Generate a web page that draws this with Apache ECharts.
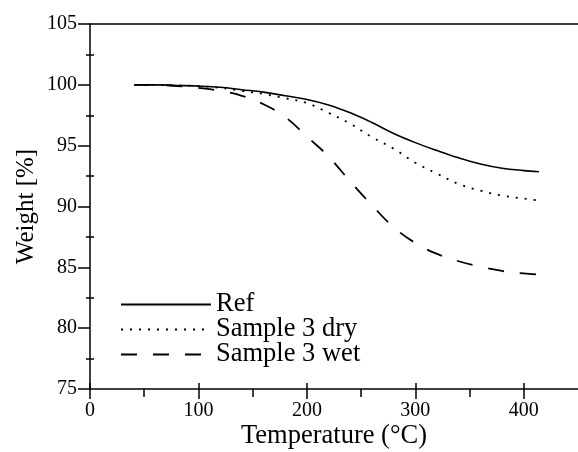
<!DOCTYPE html>
<html>
<head>
<meta charset="utf-8">
<script src="https://cdn.jsdelivr.net/npm/echarts@6/dist/echarts.min.js"></script>
<style>html,body{margin:0;padding:0;background:#fff;}#c{width:578px;height:452px;}</style>
</head>
<body>
<div id="c"></div>
<script>
const temps = [41, 60, 80, 100, 120, 140, 160, 180, 200, 220, 240, 260, 280, 300, 320, 340, 360, 380, 400, 414];
const refW =  [100.0, 100.0, 99.95, 99.9, 99.8, 99.6, 99.4, 99.1, 98.8, 98.35, 97.7, 96.9, 96.0, 95.25, 94.6, 94.0, 93.5, 93.15, 92.95, 92.85];
const dryW =  [100.0, 100.0, 99.95, 99.9, 99.75, 99.5, 99.25, 98.9, 98.5, 97.7, 96.8, 95.7, 94.75, 93.6, 92.7, 91.85, 91.3, 90.9, 90.65, 90.5];
const wetW =  [100.0, 100.0, 99.9, 99.75, 99.5, 99.1, 98.4, 97.35, 95.75, 94.1, 92.05, 90.1, 88.3, 87.0, 86.1, 85.5, 85.05, 84.7, 84.5, 84.4];
const seriesNames = ['Ref', 'Sample 3 dry', 'Sample 3 wet'];
const xMajor = [0, 100, 200, 300, 400];
const xMinor = [50, 150, 250, 350];
const yMinor = [77.5, 82.5, 87.5, 92.5, 97.5, 102.5];

const FONT = '"Liberation Serif", "Times New Roman", serif';
const pair = (ys) => temps.map((t, i) => [t, ys[i]]);
const black = '#000';

const chart = echarts.init(document.getElementById('c'));
chart.setOption({
  backgroundColor: '#fff',
  animation: false,
  grid: { left: 90, right: 0, top: 24, bottom: 63, outerBoundsMode: 'none', containLabel: false },
  legend: {
    orient: 'vertical', left: 115, top: 286,
    itemWidth: 90, itemHeight: 14, itemGap: -2,
    itemStyle: { opacity: 0 },
    textStyle: { fontFamily: FONT, fontSize: 26.5, color: black, lineHeight: 23 },
    data: seriesNames
  },
  xAxis: [
    { type: 'value', min: 0, max: 450, position: 'bottom',
      name: 'Temperature (°C)', nameLocation: 'middle', nameGap: 34, nameMoveOverlap: false,
      nameTextStyle: { fontFamily: FONT, fontSize: 26.5, color: black },
      axisLine: { lineStyle: { color: black, width: 1.5 } },
      axisTick: { customValues: xMajor, length: 10, lineStyle: { color: black, width: 1.5 } },
      axisLabel: { customValues: xMajor, fontFamily: FONT, fontSize: 20, color: black, margin: 12 },
      splitLine: { show: false } },
    { type: 'value', min: 0, max: 450, position: 'bottom',
      axisLine: { show: false },
      axisTick: { customValues: xMinor, length: 8, lineStyle: { color: black, width: 1.5 } },
      axisLabel: { show: false }, splitLine: { show: false } },
    { type: 'value', min: 0, max: 450, position: 'bottom',
      axisLine: { show: false },
      axisTick: { customValues: xMajor, inside: true, length: 6, lineStyle: { color: black, width: 1.5 } },
      axisLabel: { show: false }, splitLine: { show: false } },
    { type: 'value', min: 0, max: 450, position: 'top',
      axisLine: { lineStyle: { color: black, width: 1.5 } },
      axisTick: { show: false }, axisLabel: { show: false }, splitLine: { show: false } }
  ],
  yAxis: [
    { type: 'value', min: 75, max: 105, interval: 5, position: 'left',
      name: 'Weight [%]', nameLocation: 'middle', nameGap: 51, nameMoveOverlap: false,
      nameTextStyle: { fontFamily: FONT, fontSize: 25, color: black },
      axisLine: { lineStyle: { color: black, width: 1.5 } },
      axisTick: { length: 12, lineStyle: { color: black, width: 1.5 } },
      minorTick: { show: true, splitNumber: 2, length: 4, lineStyle: { color: black, width: 1.5 } },
      axisLabel: { fontFamily: FONT, fontSize: 20, color: black, margin: 13 },
      splitLine: { show: false } },
    { type: 'value', min: 75, max: 105, interval: 5, position: 'left',
      axisLine: { show: false },
      axisTick: { customValues: yMinor, inside: true, length: 4, lineStyle: { color: black, width: 1.5 } },
      axisLabel: { show: false }, splitLine: { show: false } }
  ],
  series: [
    { name: seriesNames[0], type: 'line', data: pair(refW), smooth: 0.4, symbol: 'none',
      lineStyle: { color: black, width: 1.6, type: 'solid' }, itemStyle: { color: black } },
    { name: seriesNames[1], type: 'line', data: pair(dryW), smooth: 0.4, symbol: 'none',
      lineStyle: { color: black, width: 1.8, type: [2, 7] }, itemStyle: { color: black } },
    { name: seriesNames[2], type: 'line', data: pair(wetW), smooth: 0.4, symbol: 'none',
      lineStyle: { color: black, width: 1.8, type: [16, 16] }, itemStyle: { color: black } }
  ]
});
</script>
</body>
</html>
